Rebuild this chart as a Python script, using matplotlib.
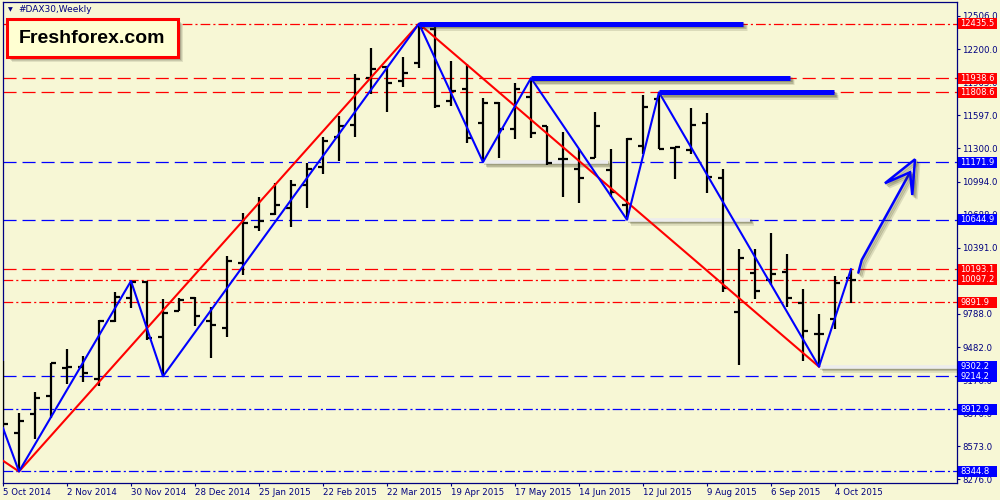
import numpy as np
import matplotlib
matplotlib.use('Agg')
import matplotlib.pyplot as plt
from matplotlib import patheffects as pe
from matplotlib.patches import Rectangle, Polygon
import matplotlib.transforms as mtransforms

# Weekly bars, 5 Oct 2014 .. 11 Oct 2015 (one per week)
opens = [8998, 8696, 8870, 9034, 9290, 9299, 9190, 9720, 9930, 10076,
         9573, 9811, 9930, 9720, 9656, 10252, 10581, 10694, 10749, 10962,
         11129, 11398, 11513, 11942, 12043, 11915, 12079, 12387, 11732, 11839,
         11526, 11708, 11474, 11769, 11501, 11197, 11106, 11206, 11099, 10779,
         11321, 11748, 11303, 11282, 11531, 11029, 9805, 10155, 10094, 10170,
         9887, 9598, 9738, 10110]
highs = [9354, 8879, 9071, 9336, 9464, 9400, 9729, 9985, 10085, 10085,
         9921, 9930, 9939, 9848, 10313, 10709, 10850, 10978, 11008, 11160,
         11398, 11592, 11976, 12211, 12043, 12129, 12435.5, 12406, 12095, 12068,
         11754, 11718, 11891, 11938.6, 11501, 11449, 11288, 11632, 11291, 11389,
         11784, 11808.6, 11312, 11663, 11617, 11106, 10375, 10375, 10521, 10332,
         10009, 9784, 10133, 10193.1]
lows = [8724, 8344.8, 8642, 8833, 9144, 9162, 9126, 9711, 9838, 9546,
        9214.2, 9811, 9674, 9382, 9573, 10140, 10545, 10688, 10581, 10755,
        11060, 11184, 11398, 11793, 11632, 11855, 12028, 11663, 11684, 11343,
        11171.9, 11206, 11380, 11389, 11145, 10850, 10795, 11206, 10855, 10644.9,
        11245, 11288, 11017, 11245, 10886, 9982, 9318, 9918, 10048, 9850,
        9357, 9302.2, 9644, 9881]
closes = [8779, 8806, 9016, 9336, 9299, 9245, 9720, 9939, 10076, 9564,
          9793, 9911, 9765, 9683, 10268, 10612, 10636, 10777, 10965, 11111,
          11367, 11504, 11933, 12022, 11891, 11988, 12396, 11687, 11824, 11389,
          11714, 11474, 11839, 11434, 11163, 11203, 11029, 11501, 10901, 11380,
          11677, 11288, 11312, 11510, 11038, 10018, 10298, 9996, 10146, 9932,
          9631, 9598, 10070, 10097.2]

date_labels = ['5 Oct 2014', '2 Nov 2014', '30 Nov 2014', '28 Dec 2014',
               '25 Jan 2015', '22 Feb 2015', '22 Mar 2015', '19 Apr 2015',
               '17 May 2015', '14 Jun 2015', '12 Jul 2015', '9 Aug 2015',
               '6 Sep 2015', '4 Oct 2015']
price_ticks = [12506.0, 12200.0, 11903.0, 11597.0, 11300.0, 10994.0, 10688.0,
               10391.0, 10085.0, 9788.0, 9482.0, 9176.0, 8870.0, 8573.0, 8276.0]

# horizontal levels
level_values = [12435.5, 11938.6, 11808.6, 11171.9, 10644.9, 10193.1,
                10097.2, 9891.9, 9214.2, 8912.9, 8344.8]
level_colors = ['red', 'red', 'red', 'blue', 'blue', 'red',
                'red', 'red', 'blue', 'blue', 'blue']
level_styles = ['dashdot', 'dash', 'dash', 'dash', 'dash', 'dash',
                'dashdot', 'dashdot', 'dash', 'dashdot', 'dashdot']

# price labels on the right
tag_values = [12435.5, 11938.6, 11808.6, 11171.9, 10644.9, 10193.1,
              10097.2, 9891.9, 9302.2, 9214.2, 8912.9, 8344.8]
tag_colors = ['#FF0000', '#FF0000', '#FF0000', '#0000FF', '#0000FF', '#FF0000',
              '#FF0000', '#FF0000', '#0000FF', '#0000FF', '#0000FF', '#0000FF']

# zigzags (week index, price)
red_weeks = [0, 1, 26, 51]
red_prices = [8443, 8344.8, 12435.5, 9302.2]
blue_weeks = [0, 1, 8, 10, 26, 30, 33, 39, 41, 51, 53]
blue_prices = [8742, 8344.8, 10085, 9214.2, 12435.5, 11171.9, 11938.6,
               10644.9, 11808.6, 9302.2, 10193.1]

# thick blue resistance lines and grey support lines
res_start = [26, 33, 41]
res_end = [46.25, 49.2, 51.95]
res_price = [12435.5, 11938.6, 11808.6]
sup_start = [30, 39, 51]
sup_end = [37.8, 46.7, 59.7]
sup_price = [11171.9, 10644.9, 9302.2]

# hand-drawn forecast arrow
arrow_weeks = [53.46, 53.67, 56.69]
arrow_prices = [10161, 10277, 11078]
head_weeks = [55.12, 57.0, 56.83, 56.69]
head_prices = [10978, 11197, 10871, 11078]

bg = '#F7F7D5'
navy = '#000080'
plt.rcParams['lines.scale_dashes'] = False
plt.rcParams['font.family'] = 'DejaVu Sans'

fig = plt.figure(figsize=(10, 5), dpi=100, facecolor=bg)
ax = fig.add_axes([0.0025, 0.035, 0.9545, 0.961], facecolor=bg)

x = np.arange(len(opens))

# levels
dash_map = {'dash': (9.4, 4.3), 'dashdot': (7, 2.2, 1.5, 2.2)}
for val, col, sty in zip(level_values, level_colors, level_styles):
    ax.axhline(val, color=col, lw=0.9, dashes=dash_map[sty], zorder=1)

shadow = [pe.SimpleLineShadow(offset=(3, -3), shadow_color='#404020', alpha=0.15),
          pe.SimpleLineShadow(offset=(2, -2), shadow_color='#404020', alpha=0.25),
          pe.SimpleLineShadow(offset=(1, -1), shadow_color='#404020', alpha=0.25),
          pe.Normal()]

# grey support lines
for s, e, p in zip(sup_start, sup_end, sup_price):
    ax.plot([s, e], [p, p], color='#EDEDED', lw=2.6, solid_capstyle='butt',
            zorder=2, path_effects=shadow)

# OHLC bars
ax.vlines(x, lows, highs, color='black', lw=1.6, zorder=3)
ax.hlines(opens, x - 0.33, x, color='black', lw=1.6, zorder=3)
ax.hlines(closes, x, x + 0.33, color='black', lw=1.6, zorder=3)

# zigzags
ax.plot(red_weeks, red_prices, color='red', lw=1.5, zorder=4)
ax.plot(blue_weeks, blue_prices, color='blue', lw=1.5, zorder=4)

# thick blue lines
for s, e, p in zip(res_start, res_end, res_price):
    ax.plot([s, e], [p, p], color='#0000FF', lw=3.6, solid_capstyle='butt',
            zorder=5, path_effects=shadow)

# arrow
ax.plot(arrow_weeks, arrow_prices, color='#0000FF', lw=1.8, zorder=6,
        solid_capstyle='round', path_effects=shadow)
head = Polygon(np.column_stack([head_weeks, head_prices]), closed=True,
               fill=False, edgecolor='#0000FF', lw=1.8, zorder=6,
               joinstyle='miter', path_effects=shadow)
ax.add_patch(head)

ax.set_xlim(-0.031, 59.625)
ax.set_ylim(8244.1, 12633.9)

ax.set_xticks(x[::4])
ax.set_xticklabels(date_labels, ha='left')
ax.yaxis.tick_right()
ax.set_yticks(price_ticks)
ax.set_yticklabels([f'{v:.1f}' for v in price_ticks])
ax.tick_params(axis='both', colors=navy, labelcolor=navy, labelsize=6.2,
               length=2.2, width=0.8, direction='out')
ax.tick_params(axis='x', pad=1.5)
ax.tick_params(axis='y', pad=1.5)
for sp in ax.spines.values():
    sp.set_color(navy)
    sp.set_linewidth(0.9)

# right-hand price tags
trans = mtransforms.blended_transform_factory(ax.transAxes, ax.transData)
for val, col in zip(tag_values, tag_colors):
    ax.add_patch(Rectangle((1.0012, val - 50), 0.0405, 100, transform=trans,
                           facecolor=col, edgecolor='none', clip_on=False, zorder=8))
    ax.text(1.0035, val, f'{val:.1f}', transform=trans, color='white',
            fontsize=6.0, va='center', ha='left', clip_on=False, zorder=9)

# title and logo
fig.text(0.018, 1 - 10 / 500, '#DAX30,Weekly', color=navy, fontsize=6.5, va='center')
fig.text(0.0075, 1 - 10 / 500, '\u25bc', color=navy, fontsize=4.5, va='center')

for off, a in [(5, 0.12), (4, 0.15), (3, 0.2)]:
    fig.add_artist(Rectangle(((7 + off) / 1000, 1 - (57 + off) / 500), 171 / 1000, 38 / 500,
                             transform=fig.transFigure, facecolor='#404030',
                             edgecolor='none', alpha=a, zorder=10))
fig.add_artist(Rectangle((7 / 1000, 1 - 57 / 500), 171 / 1000, 38 / 500,
                         transform=fig.transFigure, facecolor='#FFFFD2',
                         edgecolor='#FF0000', lw=2.2, zorder=11))
fig.text(92 / 1000, 1 - 38.5 / 500, 'Freshforex.com', ha='center', va='center',
         fontsize=14, fontweight='bold', family='Liberation Sans', color='black',
         zorder=12)

fig.savefig('out.png', dpi=100, facecolor=bg)
